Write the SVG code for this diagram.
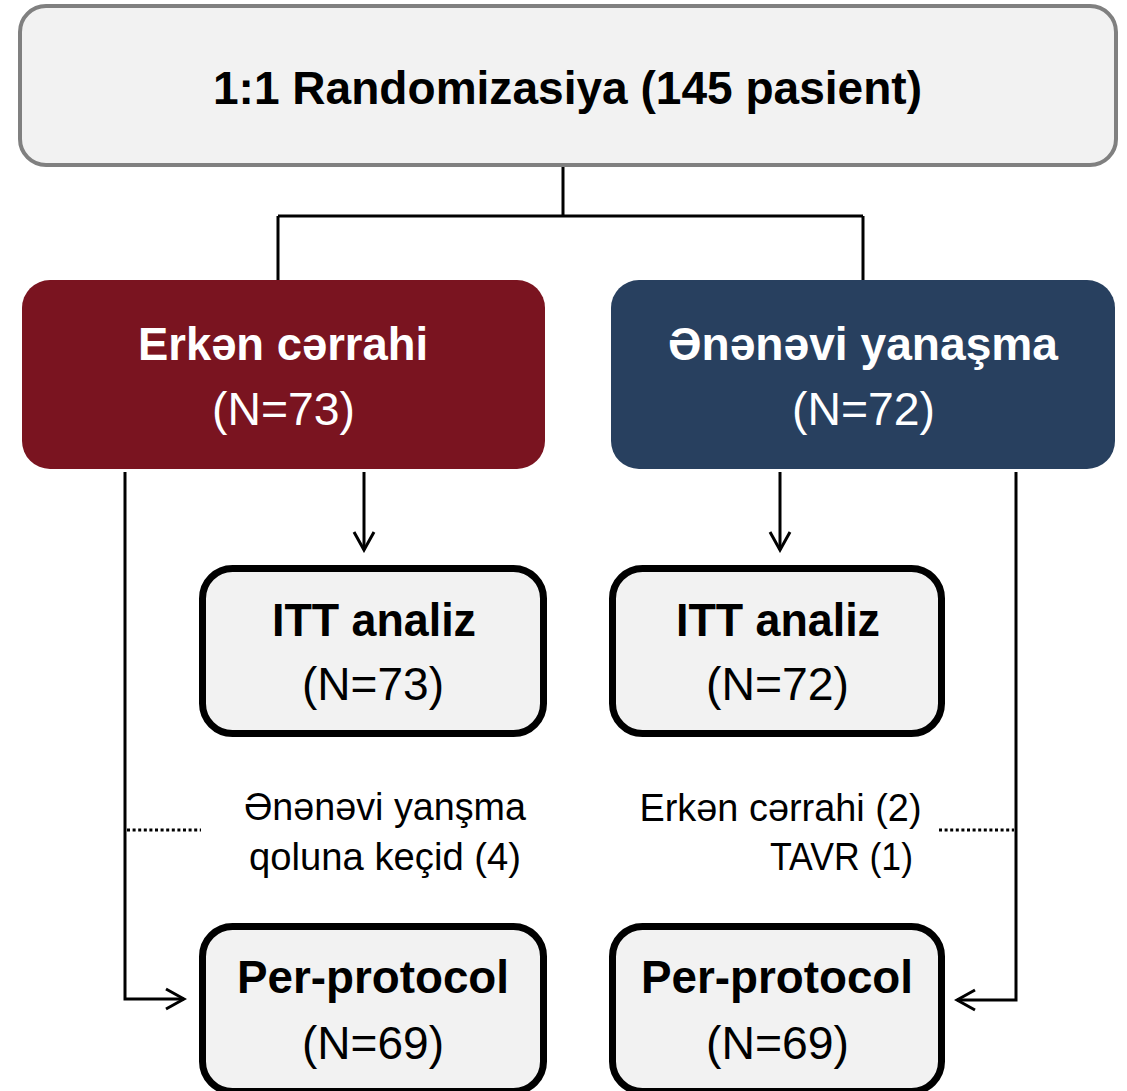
<svg xmlns="http://www.w3.org/2000/svg" width="1127" height="1091" viewBox="0 0 1127 1091">
<style>
text{font-family:"Liberation Sans",Arial,sans-serif;text-anchor:middle}
.b{font-weight:bold}
.w{fill:#ffffff}
.k{fill:#000000}
.conn{fill:none;stroke:#000;stroke-width:3}
.dot{fill:none;stroke:#000;stroke-width:3;stroke-dasharray:3 2.6}
.sub{fill:#f2f2f2;stroke:#000;stroke-width:7}
</style>
<defs>
<marker id="ah" markerUnits="userSpaceOnUse" viewBox="0 0 22 24" markerWidth="22" markerHeight="24" refX="19" refY="12" orient="auto">
<path d="M1,2 L19,12 L1,22" fill="none" stroke="#000" stroke-width="3"/>
</marker>
</defs>
<g id="connectors">
<path class="conn" d="M563,166 V216 M278,216 H863 M278,216 V281 M863,216 V281"/>
<path class="conn" d="M364,472 V550" marker-end="url(#ah)"/>
<path class="conn" d="M780,472 V550" marker-end="url(#ah)"/>
<path class="conn" d="M125,472 V999 H184" marker-end="url(#ah)"/>
<path class="conn" d="M1016,472 V1000 H957" marker-end="url(#ah)"/>
<path class="dot" d="M127,830 H201"/>
<path class="dot" d="M939,830 H1014"/>
</g>
<g id="randomization">
<rect x="20" y="6" width="1096" height="159" rx="26" fill="#f2f2f2" stroke="#808080" stroke-width="4"/>
<text class="b k" x="567.5" y="104" font-size="46" textLength="709" lengthAdjust="spacingAndGlyphs">1:1 Randomizasiya (145 pasient)</text>
</g>
<g id="early-surgery">
<rect x="22" y="280" width="523" height="189" rx="28" fill="#7a1420"/>
<text class="b w" x="283" y="360" font-size="46" textLength="290" lengthAdjust="spacingAndGlyphs">Erkən cərrahi</text>
<text class="w" x="283.5" y="425" font-size="46" textLength="143" lengthAdjust="spacingAndGlyphs">(N=73)</text>
</g>
<g id="conventional">
<rect x="611" y="280" width="504" height="189" rx="28" fill="#28405f"/>
<text class="b w" x="863" y="360" font-size="46" textLength="390" lengthAdjust="spacingAndGlyphs">Ənənəvi yanaşma</text>
<text class="w" x="863.5" y="425" font-size="46" textLength="143" lengthAdjust="spacingAndGlyphs">(N=72)</text>
</g>
<g id="itt-left">
<rect class="sub" x="202.5" y="568.5" width="341" height="165" rx="30"/>
<text class="b k" x="374" y="636" font-size="46" textLength="204" lengthAdjust="spacingAndGlyphs">ITT analiz</text>
<text class="k" x="373" y="700" font-size="46" textLength="142" lengthAdjust="spacingAndGlyphs">(N=73)</text>
</g>
<g id="itt-right">
<rect class="sub" x="612.5" y="568.5" width="329" height="165" rx="30"/>
<text class="b k" x="778" y="636" font-size="46" textLength="204" lengthAdjust="spacingAndGlyphs">ITT analiz</text>
<text class="k" x="777.5" y="700" font-size="46" textLength="143" lengthAdjust="spacingAndGlyphs">(N=72)</text>
</g>
<g id="crossover-left">
<text class="k" x="385" y="820" font-size="38" textLength="282" lengthAdjust="spacingAndGlyphs">Ənənəvi yanşma</text>
<text class="k" x="385" y="870" font-size="38" textLength="272" lengthAdjust="spacingAndGlyphs">qoluna keçid (4)</text>
</g>
<g id="crossover-right">
<text class="k" x="780.5" y="821" font-size="38" textLength="282" lengthAdjust="spacingAndGlyphs">Erkən cərrahi (2)</text>
<text class="k" x="841.5" y="870" font-size="38" textLength="143" lengthAdjust="spacingAndGlyphs">TAVR (1)</text>
</g>
<g id="pp-left">
<rect class="sub" x="202.5" y="926.5" width="341" height="165" rx="30"/>
<text class="b k" x="373" y="993" font-size="46" textLength="272" lengthAdjust="spacingAndGlyphs">Per-protocol</text>
<text class="k" x="373" y="1059" font-size="46" textLength="142" lengthAdjust="spacingAndGlyphs">(N=69)</text>
</g>
<g id="pp-right">
<rect class="sub" x="612.5" y="926.5" width="329" height="165" rx="30"/>
<text class="b k" x="777" y="993" font-size="46" textLength="272" lengthAdjust="spacingAndGlyphs">Per-protocol</text>
<text class="k" x="777.5" y="1059" font-size="46" textLength="143" lengthAdjust="spacingAndGlyphs">(N=69)</text>
</g>
</svg>
